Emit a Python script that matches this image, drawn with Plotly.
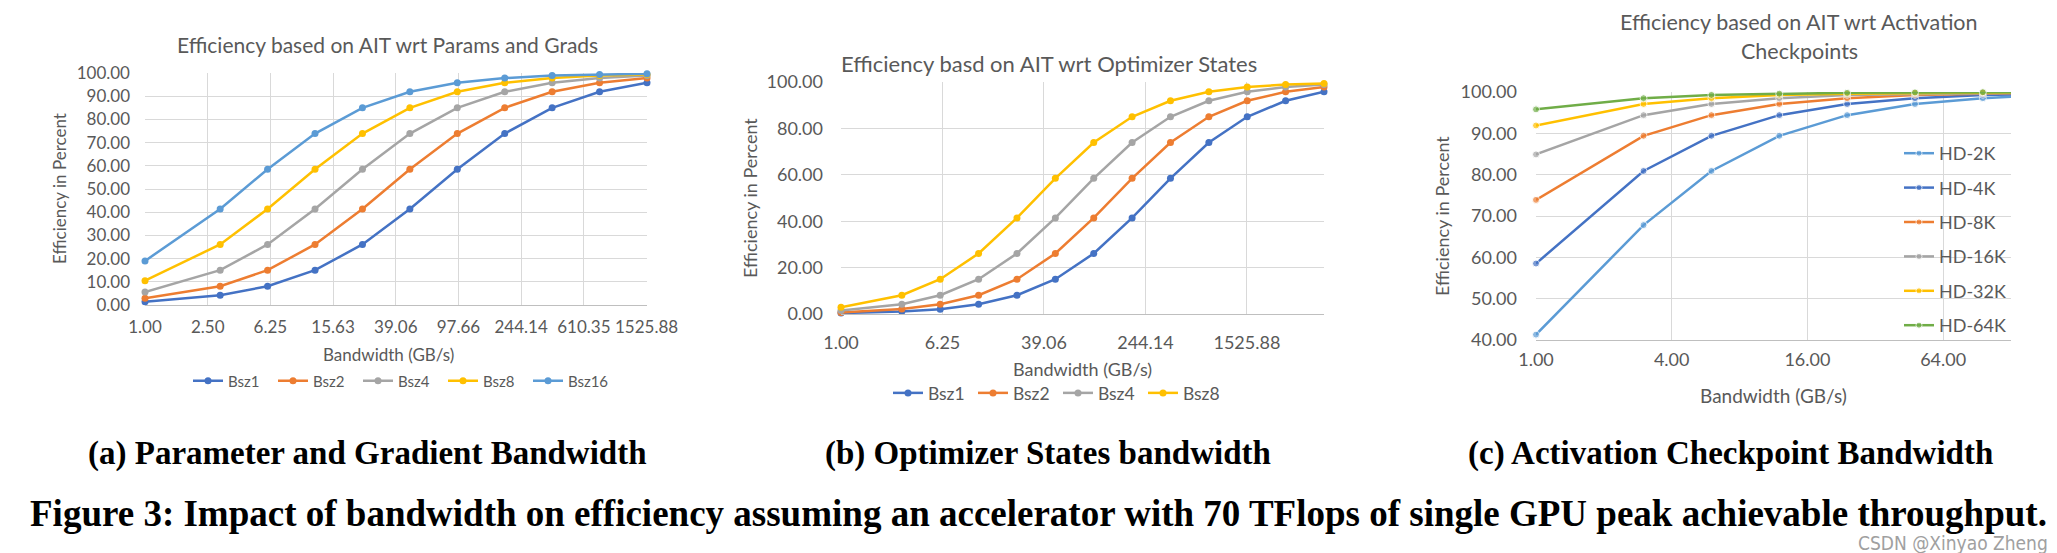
import math
import plotly.graph_objects as go

W, H = 2057, 553

# ---------------- data ----------------
# (a) Params and Grads
bw_a = [1, 3, 6, 12, 24, 48, 96, 192, 384, 768, 1536]
a_tickvals = [1.0, 2.5, 6.25, 15.625, 39.0625, 97.65625, 244.140625, 610.3515625, 1525.87890625]
a_ticktext = ["1.00", "2.50", "6.25", "15.63", "39.06", "97.66", "244.14", "610.35", "1525.88"]
a_bsz1 = [1.4, 4.2, 8.1, 15.0, 26.1, 41.4, 58.5, 73.9, 85.0, 91.9, 95.8]
a_bsz2 = [2.9, 8.1, 15.0, 26.1, 41.4, 58.5, 73.9, 85.0, 91.9, 95.8, 97.8]
a_bsz4 = [5.6, 15.0, 26.1, 41.4, 58.5, 73.9, 85.0, 91.9, 95.8, 97.8, 98.9]
a_bsz8 = [10.5, 26.1, 41.4, 58.5, 73.9, 85.0, 91.9, 95.8, 97.8, 98.9, 99.4]
a_bsz16 = [19.0, 41.4, 58.5, 73.9, 85.0, 91.9, 95.8, 97.8, 98.9, 99.4, 99.7]

# (b) Optimizer states
bw_b = [1, 3, 6, 12, 24, 48, 96, 192, 384, 768, 1536, 3072, 6144]
b_tickvals = [1.0, 6.25, 39.0625, 244.140625, 1525.87890625]
b_ticktext = ["1.00", "6.25", "39.06", "244.14", "1525.88"]
b_bsz1 = [0.4, 1.1, 2.1, 4.2, 8.1, 15.0, 26.1, 41.4, 58.5, 73.9, 85.0, 91.9, 95.8]
b_bsz2 = [0.7, 2.2, 4.2, 8.1, 15.0, 26.1, 41.4, 58.5, 73.9, 85.0, 91.9, 95.8, 97.8]
b_bsz4 = [1.5, 4.2, 8.1, 15.0, 26.1, 41.4, 58.5, 73.9, 85.0, 91.9, 95.8, 97.8, 98.9]
b_bsz8 = [2.9, 8.1, 15.0, 26.1, 41.4, 58.5, 73.9, 85.0, 91.9, 95.8, 97.8, 98.9, 99.4]

# (c) Activation checkpoints (last point lies beyond the axis end)
bw_c = [1, 3, 6, 12, 24, 48, 96, 192]
c_tickvals = [1, 4, 16, 64]
c_ticktext = ["1.00", "4.00", "16.00", "64.00"]
hd2k = [41.3, 67.8, 80.9, 89.4, 94.4, 97.1, 98.5, 99.3]
hd4k = [58.5, 80.9, 89.4, 94.4, 97.1, 98.5, 99.3, 99.6]
hd8k = [73.9, 89.4, 94.4, 97.1, 98.5, 99.3, 99.6, 99.8]
hd16k = [84.9, 94.4, 97.1, 98.5, 99.3, 99.6, 99.8, 99.9]
hd32k = [91.9, 97.1, 98.5, 99.3, 99.6, 99.8, 99.9, 99.95]
hd64k = [95.8, 98.5, 99.3, 99.6, 99.8, 99.9, 99.95, 99.98]

BLUE, ORANGE, GRAY, YELLOW, LBLUE, GREEN = "#4472C4", "#ED7D31", "#A5A5A5", "#FFC000", "#5B9BD5", "#70AD47"
TXT = "#595959"
GRID = "#D9D9D9"
FONT = "Lato, 'Open Sans', sans-serif"
SERIF = "'Liberation Serif', 'DejaVu Serif', serif"


def px(x):
    return x / W


def py(y):
    return 1 - y / H


fig = go.Figure()


def add(xs, ys, name, color, xa, ya, legend, group=None, sizes=None):
    fig.add_trace(go.Scatter(
        x=xs, y=ys, name=name, mode="lines+markers",
        line=dict(color=color, width=2.5),
        marker=dict(color=color, size=sizes if sizes else 7),
        xaxis=xa, yaxis=ya, legend=legend, cliponaxis=False,
        legendgroup=group,
    ))


for nm, ys, c in [("Bsz1", a_bsz1, BLUE), ("Bsz2", a_bsz2, ORANGE), ("Bsz4", a_bsz4, GRAY),
                  ("Bsz8", a_bsz8, YELLOW), ("Bsz16", a_bsz16, LBLUE)]:
    add(bw_a, ys, nm, c, "x", "y", "legend")

for nm, ys, c in [("Bsz1", b_bsz1, BLUE), ("Bsz2", b_bsz2, ORANGE), ("Bsz4", b_bsz4, GRAY),
                  ("Bsz8", b_bsz8, YELLOW)]:
    add(bw_b, ys, nm, c, "x2", "y2", "legend2")

csizes = [7] * (len(bw_c) - 1) + [0]
for nm, ys, c in [("HD-2K", hd2k, LBLUE), ("HD-4K", hd4k, BLUE), ("HD-8K", hd8k, ORANGE),
                  ("HD-16K", hd16k, GRAY), ("HD-32K", hd32k, YELLOW), ("HD-64K", hd64k, GREEN)]:
    add(bw_c, ys, nm, c, "x3", "y3", "legend3", group=nm, sizes=csizes)


def xaxis(dom, rng, tv, tt, fs, standoff, anchor):
    return dict(type="log", domain=[px(dom[0]), px(dom[1])], range=rng, anchor=anchor,
                tickvals=tv, ticktext=tt, showgrid=True, gridcolor=GRID, gridwidth=1,
                showline=True, linecolor="#BFBFBF", linewidth=1.3, ticks="",
                tickfont=dict(family=FONT, size=fs, color=TXT), ticklabelstandoff=standoff,
                zeroline=False, fixedrange=True, automargin=False)


def yaxis(dom, rng, dtick, fs, anchor, standoff):
    return dict(domain=[py(dom[1]), py(dom[0])], range=rng, dtick=dtick, tickformat=".2f",
                showgrid=True, gridcolor=GRID, gridwidth=1, showline=False, zeroline=False,
                ticks="", tickfont=dict(family=FONT, size=fs, color=TXT), anchor=anchor,
                ticklabelstandoff=standoff, fixedrange=True, automargin=False)


fig.update_layout(
    width=W, height=H, autosize=False,
    margin=dict(l=0, r=0, t=0, b=0, autoexpand=False),
    paper_bgcolor="white", plot_bgcolor="white",
    xaxis=xaxis((137, 639), [0, math.log10(1536)], a_tickvals, a_ticktext, 17, 6, "y"),
    yaxis=yaxis((65, 297), [0, 100], 10, 17, "x", 14),
    xaxis2=xaxis((833, 1316), [0, math.log10(6144)], b_tickvals, b_ticktext, 18, 12, "y2"),
    yaxis2=yaxis((74, 306), [0, 100], 20, 18, "x2", 17),
    xaxis3=xaxis((1528, 2003), [0, math.log10(128)], c_tickvals, c_ticktext, 18, 3, "y3"),
    yaxis3=yaxis((84, 332), [40, 100], 10, 18, "x3", 18),
    legend=dict(orientation="h", x=px(180), y=py(373), xanchor="left", yanchor="middle",
                font=dict(family=FONT, size=15, color=TXT), bgcolor="rgba(0,0,0,0)",
                entrywidth=40, itemwidth=30),
    legend2=dict(orientation="h", x=px(880), y=py(385), xanchor="left", yanchor="middle",
                 font=dict(family=FONT, size=17.5, color=TXT), bgcolor="rgba(0,0,0,0)",
                 entrywidth=40, itemwidth=30),
    legend3=dict(orientation="v", x=px(1891), y=py(127), xanchor="left", yanchor="top",
                 font=dict(family=FONT, size=18, color=TXT), bgcolor="rgba(0,0,0,0)",
                 tracegroupgap=8, itemwidth=30),
    showlegend=True,
)

ann = []


def text(x, y, s, size, family=FONT, color=TXT, angle=0, bold=False, xanchor="center"):
    ann.append(dict(x=px(x), y=py(y), xref="paper", yref="paper", text=(f"<b>{s}</b>" if bold else s),
                    showarrow=False, font=dict(family=family, size=size, color=color),
                    textangle=angle, xanchor=xanchor, yanchor="middle"))


# chart titles
text(379, 37, "Efficiency based on AIT wrt Params and Grads", 21)
text(1041, 55, "Efficiency basd on AIT wrt Optimizer States", 22)
text(1791, 14, "Efficiency based on AIT wrt Activation", 21.5)
text(1791, 43, "Checkpoints", 21.5)
# axis titles
text(380, 346, "Bandwidth (GB/s)", 17)
text(1074, 361, "Bandwidth (GB/s)", 18)
text(1765, 388, "Bandwidth (GB/s)", 19)
text(52, 181, "Efficiency in Percent", 17, angle=-90)
text(742, 190, "Efficiency in Percent", 18, angle=-90)
text(1434, 208, "Efficiency in Percent", 18, angle=-90)
# sub captions
text(359, 445, "(a) Parameter and Gradient Bandwidth", 33, family=SERIF, color="black", bold=True)
text(1040, 445, "(b) Optimizer States bandwidth", 33, family=SERIF, color="black", bold=True)
text(1722, 445, "(c) Activation Checkpoint Bandwidth", 33, family=SERIF, color="black", bold=True)
text(1030, 505, "Figure 3: Impact of bandwidth on efficiency assuming an accelerator with 70 TFlops of single GPU peak achievable throughput.",
     37, family=SERIF, color="black", bold=True)
text(2042, 535, "CSDN @Xinyao Zheng", 19, family="'Liberation Sans Narrow', 'DejaVu Sans Condensed', sans-serif",
     color="#A0A0A0", xanchor="right")

fig.update_layout(annotations=ann)
fig.write_html("out.html")
